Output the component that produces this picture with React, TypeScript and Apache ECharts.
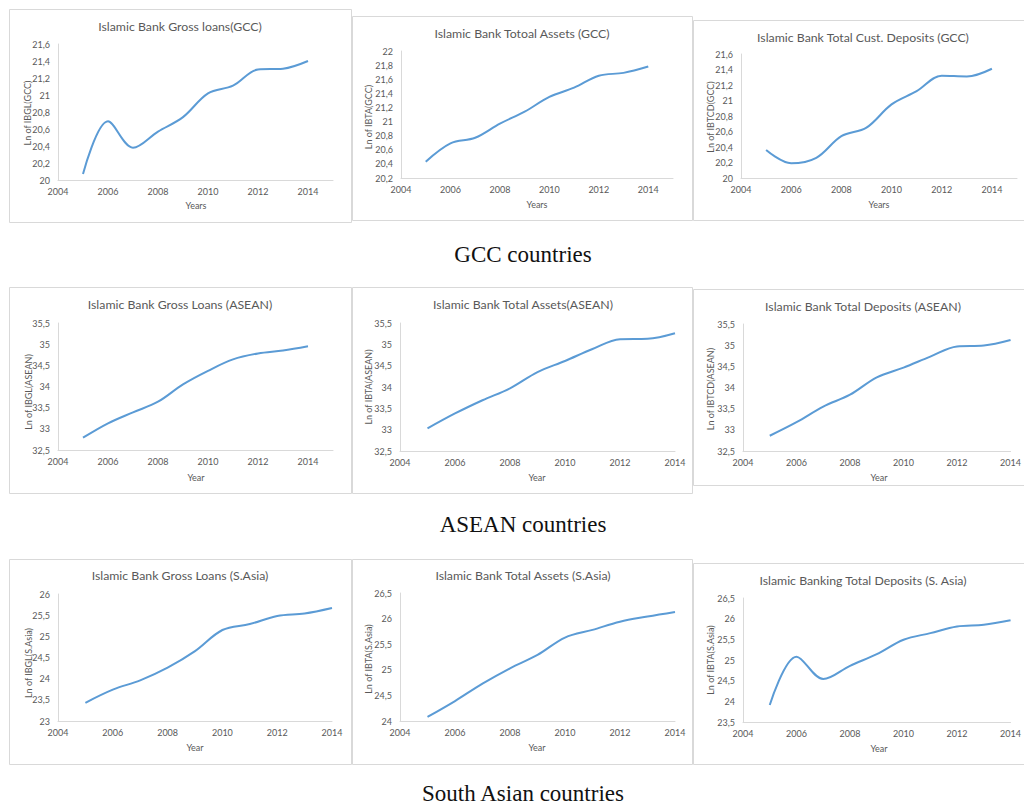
import React, { useEffect, useRef } from "react";
import * as echarts from "echarts";

// Observation years shared by every panel
const years = [2005, 2006, 2007, 2008, 2009, 2010, 2011, 2012, 2013, 2014];

// GCC countries (natural log of values)
const gccGrossLoans = [20.07, 20.69, 20.38, 20.57, 20.74, 21.02, 21.11, 21.3, 21.31, 21.4];
const gccTotalAssets = [20.43, 20.69, 20.77, 20.97, 21.14, 21.35, 21.48, 21.65, 21.69, 21.78];
const gccCustDeposits = [20.36, 20.19, 20.26, 20.54, 20.65, 20.95, 21.12, 21.32, 21.31, 21.41];

// ASEAN countries
const aseanGrossLoans = [32.79, 33.13, 33.39, 33.64, 34.05, 34.37, 34.64, 34.78, 34.85, 34.95];
const aseanTotalAssets = [33.03, 33.38, 33.69, 33.97, 34.35, 34.61, 34.89, 35.12, 35.13, 35.26];
const aseanDeposits = [32.86, 33.18, 33.55, 33.83, 34.24, 34.47, 34.73, 34.97, 34.99, 35.12];

// South Asian countries
const saGrossLoans = [23.43, 23.74, 23.96, 24.26, 24.65, 25.15, 25.29, 25.48, 25.54, 25.67];
const saTotalAssets = [24.08, 24.39, 24.73, 25.03, 25.29, 25.63, 25.78, 25.94, 26.04, 26.13];
const saDeposits = [23.91, 25.08, 24.54, 24.86, 25.14, 25.49, 25.65, 25.81, 25.85, 25.96];

// Chart titles, axis names and scale ranges
const titles = [
  "Islamic Bank Gross loans(GCC)",
  "Islamic Bank Totoal Assets (GCC)",
  "Islamic Bank Total Cust. Deposits (GCC)",
  "Islamic Bank Gross Loans (ASEAN)",
  "Islamic Bank Total Assets(ASEAN)",
  "Islamic Bank Total Deposits (ASEAN)",
  "Islamic Bank Gross Loans (S.Asia)",
  "Islamic Bank Total Assets (S.Asia)",
  "Islamic Banking Total Deposits (S. Asia)",
];
const yNames = [
  "Ln of IBGL(GCC)",
  "Ln of IBTA(GCC)",
  "Ln of IBTCD(GCC)",
  "Ln of IBGL(ASEAN)",
  "Ln of IBTA(ASEAN)",
  "Ln of IBTCD(ASEAN)",
  "Ln of IBGL(S.Asia)",
  "Ln of IBTA(S.Asia)",
  "Ln of IBTA(S.Asia)",
];
const xNames = ["Years", "Years", "Years", "Year", "Year", "Year", "Year", "Year", "Year"];
const yMins = [20, 20.2, 20, 32.5, 32.5, 32.5, 23, 24, 23.5];
const yMaxs = [21.6, 22, 21.6, 35.5, 35.5, 35.5, 26, 26.5, 26.5];
const ySteps = [0.2, 0.2, 0.2, 0.5, 0.5, 0.5, 0.5, 0.5, 0.5];
const xMaxs = [2015, 2015, 2015, 2015, 2014, 2014, 2014, 2014, 2014];
const captions = ["GCC countries", "ASEAN countries", "South Asian countries"];

const seriesValues = [
  gccGrossLoans,
  gccTotalAssets,
  gccCustDeposits,
  aseanGrossLoans,
  aseanTotalAssets,
  aseanDeposits,
  saGrossLoans,
  saTotalAssets,
  saDeposits,
];

// Page layout (pixels)
const layout = [
  { grid: [58, 44, 275, 136], box: [9, 9, 342, 213], title: [180, 26], yName: [27, 113], xName: [196, 205] },
  { grid: [401, 51, 272, 127], box: [352, 16, 340, 204], title: [522, 33], yName: [368, 117], xName: [537, 204] },
  { grid: [741, 54, 276, 124], box: [693, 20, 340, 200], title: [863, 37], yName: [710, 117], xName: [879, 204] },
  { grid: [58, 323, 275, 127], box: [9, 287, 342, 206], title: [180, 304], yName: [28, 392], xName: [196, 477] },
  { grid: [400, 323, 275, 128], box: [352, 287, 340, 206], title: [523, 304], yName: [368, 387], xName: [537, 477] },
  { grid: [743, 324, 272, 127], box: [693, 289, 340, 196], title: [863, 306], yName: [710, 389], xName: [879, 477] },
  { grid: [58, 594, 274, 127], box: [9, 559, 342, 205], title: [180, 575], yName: [28, 663], xName: [195, 747] },
  { grid: [400, 593, 275, 128], box: [352, 559, 340, 205], title: [523, 575], yName: [368, 659], xName: [537, 747] },
  { grid: [743, 598, 272, 124], box: [693, 563, 340, 201], title: [863, 580], yName: [710, 660], xName: [879, 748] },
];
const captionPos = [
  [523, 254],
  [523, 524],
  [523, 793],
];

const FONT = "Lato, 'Open Sans', sans-serif";
const TEXT = "#595959";
const AXIS = "#d9d9d9";
const LINE = "#5b9bd5";

const fmt = (v: number) => String(Math.round(v * 10) / 10).replace(".", ",");

export default function App() {
  const ref = useRef<HTMLDivElement>(null);

  useEffect(() => {
    if (!ref.current) return;
    const chart = echarts.init(ref.current, undefined, { renderer: "svg" });

    const grids = layout.map((l) => ({
      left: l.grid[0],
      top: l.grid[1],
      width: l.grid[2],
      height: l.grid[3],
      containLabel: false,
    }));

    const xAxes = layout.map((_, i) => ({
      type: "value",
      gridIndex: i,
      min: 2004,
      max: xMaxs[i],
      interval: 2,
      axisLine: { show: true, lineStyle: { color: AXIS, width: 1 } },
      axisTick: { show: false },
      splitLine: { show: false },
      axisLabel: {
        color: TEXT,
        fontSize: 9,
        fontFamily: FONT,
        margin: 7,
        showMaxLabel: xMaxs[i] % 2 === 0,
        formatter: (v: number) => String(v),
      },
    }));

    const yAxes = layout.map((_, i) => ({
      type: "value",
      gridIndex: i,
      min: yMins[i],
      max: yMaxs[i],
      interval: ySteps[i],
      axisLine: { show: true, lineStyle: { color: AXIS, width: 1 } },
      axisTick: { show: false },
      splitLine: { show: false },
      axisLabel: {
        color: TEXT,
        fontSize: 9,
        fontFamily: FONT,
        margin: 8,
        formatter: fmt,
      },
    }));

    const series = seriesValues.map((vals, i) => ({
      type: "line",
      xAxisIndex: i,
      yAxisIndex: i,
      data: years.map((y, k) => [y, vals[k]]),
      smooth: 0.35,
      showSymbol: false,
      lineStyle: { color: LINE, width: 2 },
      itemStyle: { color: LINE },
    }));

    const graphics: any[] = [];
    layout.forEach((l, i) => {
      graphics.push({
        type: "rect",
        shape: { x: l.box[0] + 0.5, y: l.box[1] + 0.5, width: l.box[2], height: l.box[3] },
        style: { fill: "none", stroke: AXIS, lineWidth: 1 },
        z: 0,
      });
      graphics.push({
        type: "text",
        x: l.title[0],
        y: l.title[1],
        style: {
          text: titles[i],
          fill: TEXT,
          font: `12.3px ${FONT}`,
          align: "center",
          verticalAlign: "middle",
        },
      });
      graphics.push({
        type: "text",
        x: l.yName[0],
        y: l.yName[1],
        rotation: Math.PI / 2,
        style: {
          text: yNames[i],
          fill: TEXT,
          font: `9px ${FONT}`,
          align: "center",
          verticalAlign: "middle",
        },
      });
      graphics.push({
        type: "text",
        x: l.xName[0],
        y: l.xName[1],
        style: {
          text: xNames[i],
          fill: TEXT,
          font: `9px ${FONT}`,
          align: "center",
          verticalAlign: "middle",
        },
      });
    });
    captions.forEach((c, i) => {
      graphics.push({
        type: "text",
        x: captionPos[i][0],
        y: captionPos[i][1],
        style: {
          text: c,
          fill: "#111",
          font: `23px 'Liberation Serif', 'DejaVu Serif', serif`,
          align: "center",
          verticalAlign: "middle",
        },
      });
    });

    chart.setOption({
      animation: false,
      backgroundColor: "#ffffff",
      grid: grids,
      xAxis: xAxes,
      yAxis: yAxes,
      series,
      graphic: graphics,
    });

    return () => chart.dispose();
  }, []);

  return (
    <div
      ref={ref}
      style={{ position: "absolute", left: 0, top: 0, width: 1024, height: 807, background: "#fff" }}
    />
  );
}
